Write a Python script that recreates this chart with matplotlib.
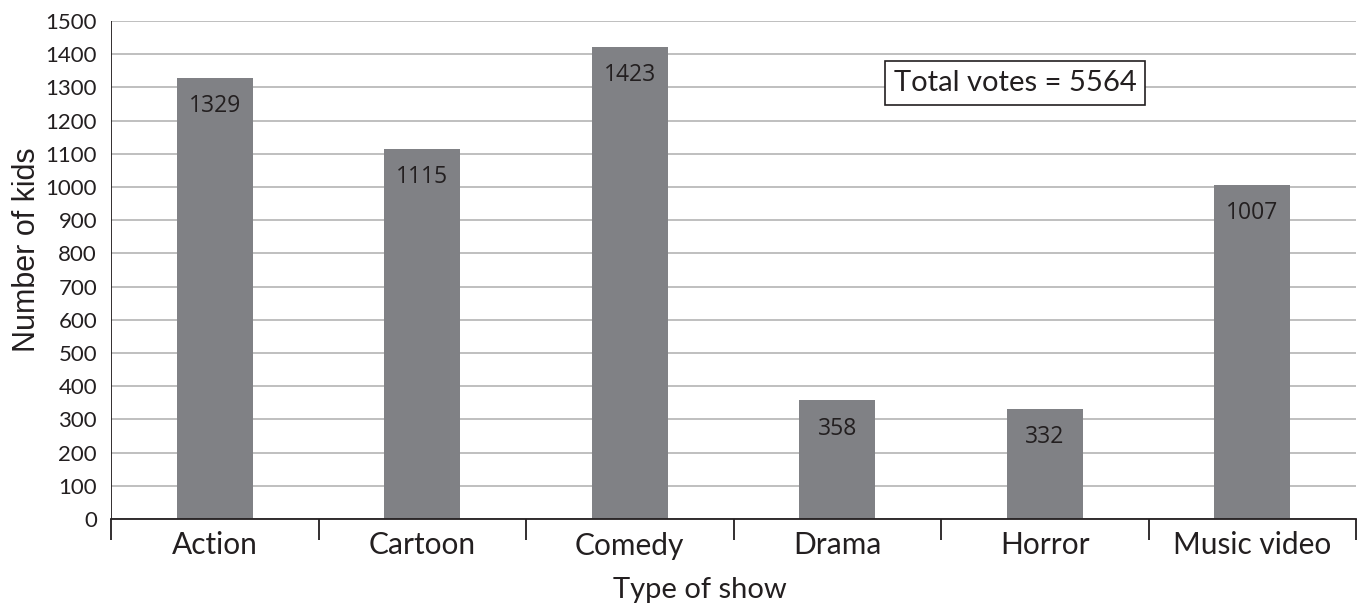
import numpy as np
import matplotlib.pyplot as plt

shows = ['Action', 'Cartoon', 'Comedy', 'Drama', 'Horror', 'Music video']
kids = [1329, 1115, 1423, 358, 332, 1007]
yticks = list(range(0, 1501, 100))
total_text = 'Total votes = 5564'

plt.rcParams['font.family'] = ['Lato', 'DejaVu Sans']

fig = plt.figure(figsize=(13.57, 6.12), dpi=100)
ax = fig.add_axes([111 / 1357, 93 / 612, 1245 / 1357, 498 / 612])

x = np.arange(len(shows))
bars = ax.bar(x, kids, width=0.366, color='#808185', zorder=2)

# value labels inside the bars, near the top
for b, v in zip(bars, kids):
    ax.annotate(str(v), (b.get_x() + b.get_width() / 2, v),
                xytext=(0, -20.5), textcoords='offset points',
                ha='center', va='center', fontsize=16.5,
                family=['Open Sans', 'DejaVu Sans'], color='#231f20')

ax.set_xlim(-0.5, len(shows) - 0.5)
ax.set_ylim(0, 1500)
ax.set_yticks(yticks)
ax.set_yticklabels([str(t) for t in yticks], fontsize=16, color='#231f20')
ax.tick_params(axis='y', length=0, pad=10)

# category ticks sit on the boundaries
ax.set_xticks(np.arange(-0.5, len(shows), 1.0))
ax.set_xticklabels([])
ax.set_xticks(x, minor=True)
ax.set_xticklabels(shows, minor=True, fontsize=21.5, color='#231f20')
ax.tick_params(axis='x', which='major', length=15, width=1.3, color='#231f20')
ax.tick_params(axis='x', which='minor', length=0, pad=9)

ax.yaxis.grid(True, color='#b4b4b4', linewidth=1.2, zorder=0)
ax.set_axisbelow(True)
for s in ['top', 'right', 'left']:
    ax.spines[s].set_visible(False)
ax.spines['bottom'].set_color('#231f20')
ax.spines['bottom'].set_linewidth(1.3)
ax.axvline(-0.5, color='#231f20', linewidth=1.3, zorder=3)

ax.text(3.857, 1313, total_text, ha='center', va='center', fontsize=21,
        color='#231f20',
        bbox=dict(boxstyle='square,pad=0.3', fc='white', ec='#231f20', lw=1.2),
        zorder=4)

fig.text(700 / 1357, 1 - 590 / 612, 'Type of show', ha='center', va='center',
         fontsize=21, color='#231f20')
fig.text(27 / 1357, 1 - 250 / 612, 'Number of kids', ha='center', va='center',
         rotation=90, fontsize=22, family=['Liberation Sans', 'DejaVu Sans'],
         color='#231f20')

fig.savefig('out.png', dpi=100)
